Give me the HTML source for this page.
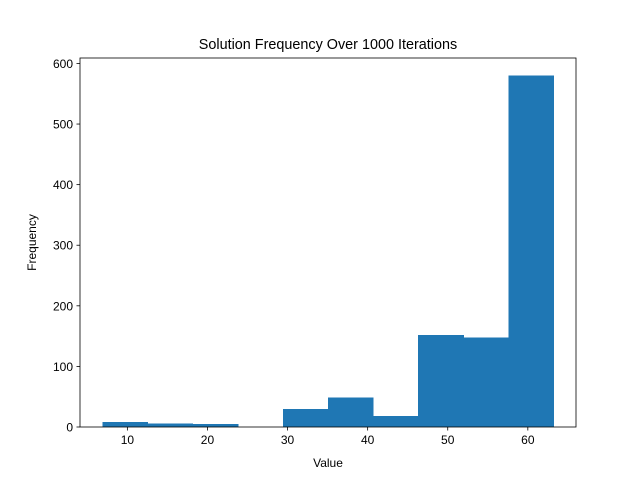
<!DOCTYPE html>
<html><head><meta charset="utf-8"><style>body{margin:0;background:#fff}svg text{font-family:"Liberation Sans","DejaVu Sans",sans-serif}</style></head>
<body>
<svg id="c" width="640" height="480" xmlns="http://www.w3.org/2000/svg"></svg>
<script>
const binStart = 6.9;
const binEnd = 63.2;
const counts = [8, 6, 5, 0, 30, 49, 18, 152, 148, 580];
const xTicks = [10, 20, 30, 40, 50, 60];
const yTicks = [0, 100, 200, 300, 400, 500, 600];
const L=80,R=576,T=58,B=427;
const span=binEnd-binStart, xmin=binStart-0.05*span, xmax=binEnd+0.05*span;
const ymax=Math.max(...counts)*1.05;
const X=v=>L+(v-xmin)/(xmax-xmin)*(R-L);
const Y=v=>B-v/ymax*(B-T);
const svg=document.getElementById('c');
const NS='http://www.w3.org/2000/svg';
function mk(t,a,txt){const e=document.createElementNS(NS,t);for(const k in a)e.setAttribute(k,a[k]);if(txt!=null)e.textContent=txt;svg.appendChild(e);return e;}
const w=span/counts.length;
counts.forEach((c,i)=>{const x0=X(binStart+i*w),x1=X(binStart+(i+1)*w);
const r=mk('rect',{x:x0,y:Y(c),width:x1-x0+0.5,height:B-Y(c),fill:'#1f77b4','shape-rendering':'crispEdges'});

});
xTicks.forEach(t=>{const x=X(t);mk('line',{x1:x,x2:x,y1:B,y2:B+3.5,stroke:'#000','stroke-width':0.8});
const e=mk('text',{x:x,y:B+17,'text-anchor':'middle','font-size':'12'},t);

});
yTicks.forEach(t=>{const y=Y(t);mk('line',{x1:L-3.5,x2:L,y1:y,y2:y,stroke:'#000','stroke-width':0.8});
const e=mk('text',{x:L-7,y:y+4.5,'text-anchor':'end','font-size':'12'},t);

});
const f=mk('rect',{x:L,y:T,width:R-L,height:B-T,fill:'none',stroke:'#000','stroke-width':0.8});


const ti=mk('text',{x:(L+R)/2,y:T-9,'text-anchor':'middle','font-size':'14.4'},'Solution Frequency Over 1000 Iterations');


const xl=mk('text',{x:(L+R)/2,y:467,'text-anchor':'middle','font-size':'12'},'Value');


const yl=mk('text',{x:0,y:0,'text-anchor':'middle','font-size':'12',transform:`translate(36,${(T+B)/2}) rotate(-90)`},'Frequency');


</script>
</body></html>
